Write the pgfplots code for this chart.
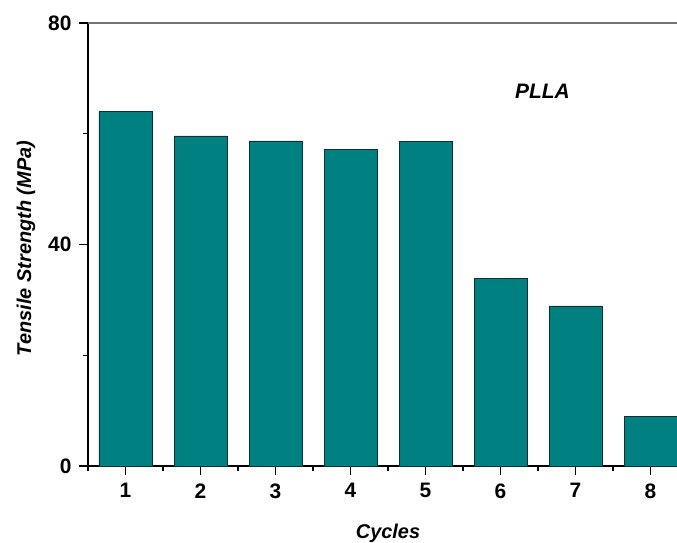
\documentclass[border=0pt]{standalone}
\usepackage{pgfplots}
\pgfplotsset{compat=1.18}
\usepackage{fontspec}
\setmainfont{Liberation Sans}
\definecolor{teal1}{HTML}{008080}
\definecolor{edge1}{HTML}{0B3030}
\begin{document}
\begin{tikzpicture}
\useasboundingbox (0,0) rectangle (677bp,543bp);
\begin{axis}[
  at={(88bp,77bp)}, anchor=south west,
  scale only axis, width=600bp, height=443bp,
  xmin=0.5, xmax=8.5, ymin=0, ymax=80,
  axis x line*=bottom, axis y line*=left,
  axis line style={line width=1.4bp, -},
  xtick={1,...,8}, minor xtick={0.5,1.5,...,8.5},
  ytick={0,40,80}, minor ytick={20,60},
  tick align=outside, tick pos=left,
  major tick length=9bp, minor tick length=5bp,
  every tick/.style={black, line width=1.4bp},
  /pgf/number format/assume math mode=true,
  tick label style={font=\fontsize{21}{25}\selectfont\bfseries},
  yticklabel style={xshift=-4bp},
  xticklabel style={yshift=-5bp},
  xlabel={\textit{Cycles}},
  ylabel={\textit{Tensile Strength (MPa)}},
  label style={font=\fontsize{20}{24}\selectfont\bfseries},
  xlabel style={at={(axis description cs:0.5,-0.151)}, anchor=center},
  ylabel style={at={(axis description cs:-0.1033,0.491)}, anchor=center, rotate=0},
  clip=false,
]
\addplot[ybar, bar width=53bp, fill=teal1, draw=edge1, line width=0.8bp]
  coordinates {(1,64.0) (2,59.6) (3,58.7) (4,57.2) (5,58.6) (6,33.8) (7,28.9) (8,9.0)};
\draw[gray!90!black, line width=1.4bp] (rel axis cs:0,1) -- (rel axis cs:1,1);
\node[font=\fontsize{21}{25}\selectfont\bfseries\itshape] at (axis cs:6.56,67.7) {PLLA};
\end{axis}
\end{tikzpicture}
\end{document}
